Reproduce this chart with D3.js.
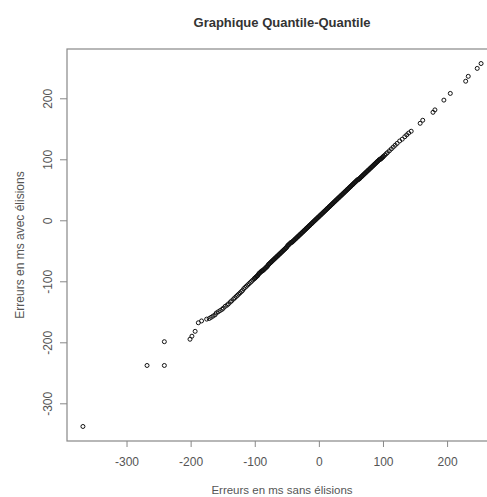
<!DOCTYPE html>
<html>
<head>
<meta charset="utf-8">
<script src="https://cdn.jsdelivr.net/npm/d3@7"></script>
<style>
body{margin:0;background:#fff;}
svg{display:block;font-family:"Liberation Sans",Arial,sans-serif;}
</style>
</head>
<body>
<div id="app"></div>
<script>
// quantiles (sorted), x = sans élisions, y = avec élisions
const sansElisions = [
	-368,-268,-241,-241,-201,-198,-193,-188,-183,-175,
	-171,-168,-165,-162,-160,-157,-154,-151,-149,-146,-143,-141,-138,-136,-133,-131,-129,-127,-125,-123,
	-121,-119,-117,-115,-113,-111,-109,-107,-105,-103,
	-101,-100,-99,-98,-97,-96,-95,-94,-93,-92,-91,-90,-89,-88,-87,-86,-85,-84,-83,-82,-81,-80,
	-79,-78,-77,-76,-75,-74,-73,-72,-71,-70,-69,-68,-67,-66,-65,-64,-63,-62,-61,-60,
	-59,-58,-57,-56,-55,-54,-53,-52,-51,-50,-49,-48,-47,-46,-45,-44,-43,-42,
	-41,-40,-39,-38,-37,-36,-35,-34,-33,-32,-31,-30,-29,-28,-27,-26,-25,-24,-23,-22,-21,-20,
	-19,-18,-17,-16,-15,-14,-13,-12,-11,-10,-9,-8,-7,-6,-5,-4,-3,-2,-1,0,
	1,2,3,4,5,6,7,8,9,10,11,12,13,14,15,16,17,18,19,20,
	21,22,23,24,25,26,27,28,29,30,31,32,33,34,35,36,37,38,39,40,
	41,42,43,44,45,46,47,48,49,50,51,52,53,54,55,56,57,58,59,60,61,
	62,63,64,65,66,67,68,69,70,71,72,73,74,75,76,77,78,79,80,
	81,82,83,84,85,86,87,88,89,90,91,92,93,94,95,96,97,98,99,100,101,
	103,105,107,110,113,116,119,122,126,130,134,137,140,144,158,162,178,181,195,205,229,233,247,253];
const avecElisions = [
	-338,-238,-238,-199,-195,-190,-182,-168,-165,-162,
	-161,-159,-157,-155,-152,-150,-148,-146,-144,-141,-139,-137,-134,-132,-129,-127,-125,-123,-121,-119,
	-117,-115,-112,-110,-108,-106,-104,-102,-100,-98,
	-96,-95,-94,-93,-92,-91,-90,-88,-87,-86,-85,-84,-83,-83,-82,-81,-80,-79,-78,-77,-76,-75,
	-73,-72,-71,-70,-69,-68,-67,-66,-65,-64,-63,-62,-61,-60,-59,-58,-57,-56,-55,-54,
	-53,-52,-51,-50,-49,-48,-47,-46,-45,-44,-42,-41,-40,-39,-38,-37,-36,-36,
	-35,-34,-33,-32,-31,-30,-29,-28,-27,-26,-25,-24,-23,-22,-21,-20,-19,-18,-17,-16,-15,-14,
	-13,-12,-11,-10,-9,-8,-7,-6,-5,-4,-3,-2,-1,0,1,2,3,4,5,6,
	7,8,9,10,11,12,13,14,15,16,17,18,19,20,21,22,23,24,25,26,
	27,28,29,30,31,32,33,34,35,36,37,38,39,40,41,42,43,44,45,46,
	47,48,49,50,51,52,53,54,55,56,57,58,59,60,61,62,63,64,65,66,67,
	67,68,69,70,71,72,73,74,75,76,77,78,79,80,81,82,83,84,85,
	86,87,88,89,90,91,92,93,94,95,96,97,98,99,100,100,101,102,103,104,105,
	107,109,111,114,117,120,123,126,130,133,137,140,143,146,159,164,177,181,197,208,228,236,249,257];
const xTicks = [-300,-200,-100,0,100,200];
const yTicks = [-300,-200,-100,0,100,200];

const titre = "Graphique Quantile-Quantile",
	xLabel = "Erreurs en ms sans élisions",
	yLabel = "Erreurs en ms avec élisions";

if(sansElisions.length != avecElisions.length){
	console.error("longueurs differentes", sansElisions.length, avecElisions.length);
}

const W = 487, H = 497;
const box = {left:67, right:497, top:49, bottom:441};

// R etend les axes de 4%
function pad(ext){
	let r = ext[1]-ext[0];
	return [ext[0]-0.04*r, ext[1]+0.04*r];
}

const x = d3.scaleLinear().domain(pad(d3.extent(sansElisions))).range([box.left, box.right]);
const y = d3.scaleLinear().domain(pad(d3.extent(avecElisions))).range([box.bottom, box.top]);

const svg = d3.select("#app").append("svg").attr("width", W).attr("height", H);

svg.append("text")
	.attr("x", (box.left+box.right)/2).attr("y", 27)
	.attr("text-anchor","middle")
	.attr("font-size",13).attr("font-weight","bold").attr("fill","#333")
	.text(titre);

svg.append("rect")
	.attr("x", box.left).attr("y", box.top)
	.attr("width", box.right-box.left).attr("height", box.bottom-box.top)
	.attr("fill","none").attr("stroke","#888").attr("stroke-width",1.2);

const fmt = d => String(d);

const gx = svg.append("g").attr("transform","translate(0,"+box.bottom+")")
	.call(d3.axisBottom(x).tickValues(xTicks).tickSize(6).tickPadding(10).tickFormat(fmt));
gx.select(".domain").remove();

const gy = svg.append("g").attr("transform","translate("+box.left+",0)")
	.call(d3.axisLeft(y).tickValues(yTicks).tickSize(7).tickFormat(fmt));
gy.select(".domain").remove();
gy.selectAll(".tick text")
	.attr("x",0).attr("dy",0)
	.attr("text-anchor","middle")
	.attr("transform","translate(-15,0) rotate(-90)");

svg.selectAll(".tick line").attr("stroke","#888");
svg.selectAll(".tick text").attr("fill","#555").attr("font-size",12).attr("font-family","Liberation Sans, Arial, sans-serif");

svg.append("text")
	.attr("x", (box.left+box.right)/2).attr("y", 494)
	.attr("text-anchor","middle").attr("font-size",11.5).attr("fill","#555")
	.text(xLabel);

svg.append("text")
	.attr("transform","translate(24,"+((box.top+box.bottom)/2)+") rotate(-90)")
	.attr("text-anchor","middle").attr("font-size",12).attr("fill","#555")
	.text(yLabel);

svg.append("g").selectAll("circle")
	.data(sansElisions.map((v,i)=>[v, avecElisions[i]]))
	.join("circle")
	.attr("cx", d=>x(d[0])).attr("cy", d=>y(d[1]))
	.attr("r", 2)
	.attr("fill","none").attr("stroke","#111").attr("stroke-width",1);
</script>
</body>
</html>
